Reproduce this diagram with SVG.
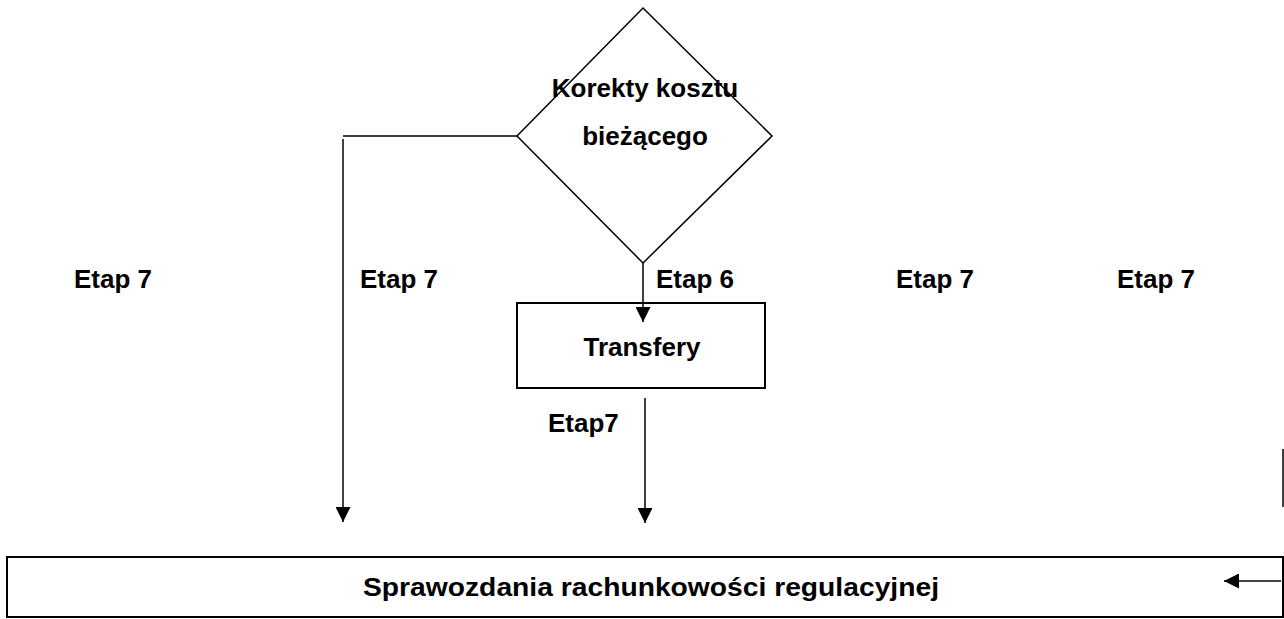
<svg xmlns="http://www.w3.org/2000/svg" width="1284" height="619" viewBox="0 0 1284 619">
<style>
  .shape { fill: #fff; stroke: #000; }
  .line { fill: none; stroke: #000; stroke-width: 1.5; }
  .lbl { font-family: "Liberation Sans", Arial, sans-serif; font-weight: bold; font-size: 26px; fill: #000; }
  .mid { text-anchor: middle; }
</style>
<defs>
  <marker id="arrow" markerUnits="userSpaceOnUse" markerWidth="15" markerHeight="15" refX="15" refY="7.5" orient="auto">
    <path d="M0,0 L15,7.5 L0,15 z" fill="#000"/>
  </marker>
</defs>
<rect width="1284" height="619" fill="#fff"/>

<g id="decision">
  <polygon class="shape" stroke-width="1.5" points="643,8 772,136 643,263 517,136"/>
  <text class="lbl mid" x="645" y="97">Korekty kosztu</text>
  <text class="lbl mid" x="645" y="145">bieżącego</text>
</g>

<g id="transfery">
  <rect class="shape" stroke-width="2" x="517" y="303" width="248" height="85"/>
  <text class="lbl mid" x="642" y="356">Transfery</text>
</g>

<g id="sprawozdania">
  <rect class="shape" stroke-width="2" x="7" y="557" width="1276" height="60"/>
  <text class="lbl mid" x="651" y="596" textLength="576" lengthAdjust="spacingAndGlyphs">Sprawozdania rachunkowości regulacyjnej</text>
</g>

<g id="connectors">
  <line class="line" x1="517" y1="136" x2="343" y2="136" stroke-width="3"/>
  <line class="line" x1="343" y1="139" x2="343" y2="522" stroke-width="2" marker-end="url(#arrow)"/>
  <line class="line" x1="643" y1="263" x2="643" y2="322" marker-end="url(#arrow)"/>
  <line class="line" x1="645" y1="398" x2="645" y2="523" marker-end="url(#arrow)"/>
  <line class="line" x1="1283" y1="449" x2="1283" y2="507" stroke-width="2"/>
  <line class="line" x1="1281" y1="581" x2="1224" y2="581" stroke-width="2" marker-end="url(#arrow)"/>
</g>

<g id="labels">
  <text class="lbl" x="74" y="288">Etap 7</text>
  <text class="lbl" x="360" y="288">Etap 7</text>
  <text class="lbl" x="656" y="288">Etap 6</text>
  <text class="lbl" x="896" y="288">Etap 7</text>
  <text class="lbl" x="1117" y="288">Etap 7</text>
  <text class="lbl" x="548" y="432">Etap7</text>
</g>
</svg>
